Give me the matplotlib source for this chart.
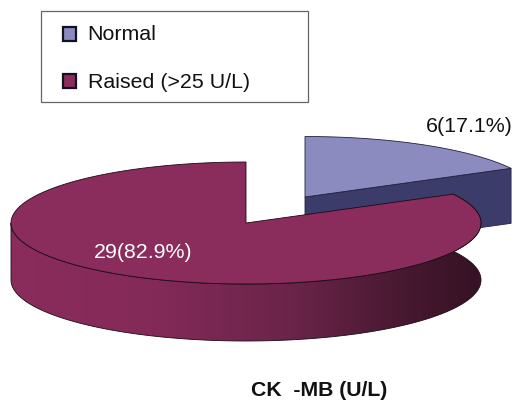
import numpy as np
import matplotlib
matplotlib.use("Agg")
import matplotlib.pyplot as plt
from matplotlib.patches import Polygon, Rectangle
from matplotlib.colors import LinearSegmentedColormap

plt.rcParams['font.family'] = ['Liberation Sans', 'DejaVu Sans']

# данные
categories = ["Normal", "Raised (>25 U/L)"]
counts = [6, 29]
slice_labels = ["6(17.1%)", "29(82.9%)"]
chart_title = "CK  -MB (U/L)"

TOP_NORMAL = "#8b8bbf"
SIDE_NORMAL = "#3c3c6b"
TOP_RAISED = "#8a2c5c"

fig = plt.figure(figsize=(5.14, 4.0), dpi=100)
ax = fig.add_axes([0, 0, 1, 1])
ax.set_xlim(0, 514)
ax.set_ylim(400, 0)
ax.axis("off")

# углы секторов, по часовой стрелке от севера
fractions = np.array(counts) / sum(counts)
split = fractions[0] * 360


def rim(cx, cy, a, b, start, end, n=200):
    t = np.radians(np.linspace(start, end, n))
    return np.column_stack([cx + a * np.sin(t), cy - b * np.cos(t)])


# сектор Normal (смещён вправо вверх)
nx_, ny_, na, nb, ndepth = 305, 197, 234, 60.5, 55
n_rim = rim(nx_, ny_, na, nb, 0, split)
end_pt = n_rim[-1]
ax.add_patch(Polygon([(nx_, ny_), end_pt, end_pt + [0, ndepth], (nx_, ny_ + ndepth)],
                     fc=SIDE_NORMAL, ec="#20203c", lw=0.6, zorder=2))
ax.add_patch(Polygon(np.vstack([[(nx_, ny_)], n_rim]), fc=TOP_NORMAL, ec="#20203c",
                     lw=0.6, zorder=3))

# сектор Raised
cx, cy, a, b, depth = 246, 223, 235, 61, 57
r_rim = rim(cx, cy, a, b, split, 360)
front = rim(cx, cy, a, b, split, 270)
wall = np.vstack([front, front[::-1] + [0, depth]])
cmap = LinearSegmentedColormap.from_list(
    "wall", [(0, "#8a2c5c"), (0.3, "#842a59"), (0.6, "#6a2449"),
             (0.85, "#46182f"), (1, "#361225")])
img = ax.imshow(np.linspace(0, 1, 256)[None, :], cmap=cmap, aspect="auto",
                extent=(cx - a, cx + a, cy + b + depth, cy - b), zorder=4)
wall_patch = Polygon(wall, fc="none", ec="#1c0a14", lw=0.6, zorder=5)
ax.add_patch(wall_patch)
img.set_clip_path(wall_patch)
ax.add_patch(Polygon(np.vstack([[(cx, cy)], r_rim]), fc=TOP_RAISED, ec="#1c0a14",
                     lw=0.6, zorder=6))
ax.set_xlim(0, 514)
ax.set_ylim(400, 0)

# подписи секторов
ax.text(469, 127, slice_labels[0], fontsize=15.4, color="#111111",
        ha="center", va="center", zorder=7)
ax.text(143, 252.5, slice_labels[1], fontsize=15.4, color="white",
        ha="center", va="center", zorder=7)

# легенда
ax.add_patch(Rectangle((41, 11), 267, 91, fc="white", ec="#666666", lw=0.9, zorder=7))
for y, name, col in zip([35, 82], categories, [TOP_NORMAL, TOP_RAISED]):
    ax.add_patch(Rectangle((62.5, y - 8.5), 13, 14, fc=col, ec="#111122", lw=1.6, zorder=8))
    ax.text(87.5, y, name, fontsize=15.4, color="#111111", va="center", zorder=8)

ax.text(319, 390, chart_title, fontsize=15.3, fontweight="bold", color="#111111",
        ha="center", va="center", zorder=8)

fig.savefig("out.png", dpi=100)
